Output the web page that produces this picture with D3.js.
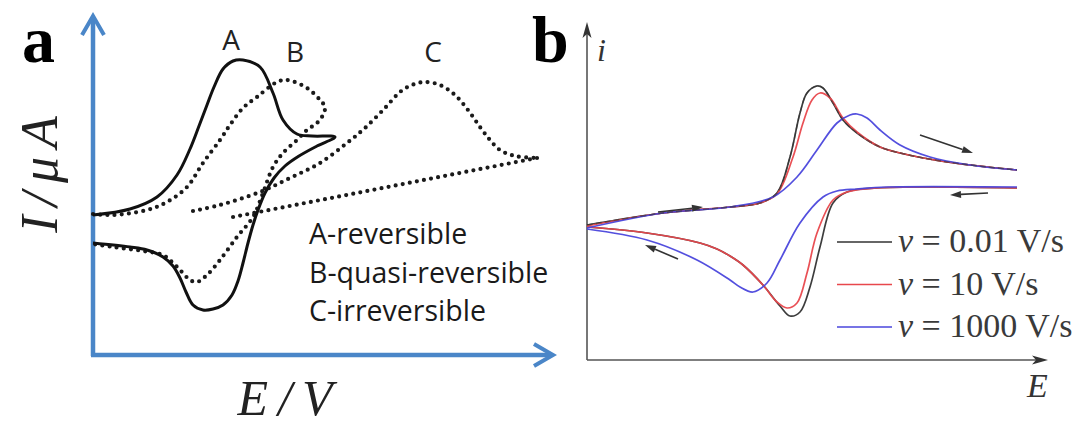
<!DOCTYPE html>
<html>
<head>
<meta charset="utf-8">
<script src="https://cdn.jsdelivr.net/npm/d3@7"></script>
<style>
  html, body { margin: 0; padding: 0; background: #fff; }
  svg { display: block; }
</style>
</head>
<body>
<script>
// ---- Panel a: idealised cyclic voltammograms, arbitrary units [E, I] ----
const curveA = [[0,140],[37,146],[64,158],[84,180],[97,206],[106,229],[114,250],[121,268],[130,286],[140,294],[150,295],[167,288],[180,262],[190,235],[204,221],[219,219],[242,218],
  [224,209],[206,199],[192,189],[181,177],[172,162],[165,145],[160,130],[155,112],[150,92],[145,74],[139,60],[130,50],[120,46],[110,45],[100,50],[93,63],[87,77],[80,89],[70,98],[54,105],[37,108],[0,112]];
const curveB = [[0,141],[20,140],[54,145],[74,153],[94,168],[110,192],[127,215],[137,230],[150,247],[164,258],[184,273],[194,275],[214,267],[227,255],[232,248],[230,240],[224,232],[214,225],[204,215],[190,202],[180,188],[170,162],[160,138],[144,118],[127,95],[114,80],[104,73],[97,75],[88,84],[80,92],[70,100],[50,104],[20,108],[0,111]];
const curveCforward = [[100,144],[127,150],[167,163],[197,177],[227,192],[254,212],[272,227],[292,247],[307,263],[319,270],[332,273],[347,270],[362,260],[375,245],[387,228],[397,215],[407,205],[422,199],[444,197]];
const curveCreverse = [[444,197],[140,138]];
const curveNames = ["A", "B", "C"];
const legendA = ["A-reversible", "B-quasi-reversible", "C-irreversible"];

// ---- Panel b: simulated CVs at three scan rates [E, i] ----
const scanRates = ["0.01", "10", "1000"];
const rateColors = ["#333333", "#e8474c", "#4a46dc"];
const forward001 = [[0,135],[76,147],[143,153],[173,157],[190,167],[203,203],[213,247],[220,267],[230,274],[236,272],[246,257],[256,240],[270,227],[293,213],[313,207],[360,198],[430,190]];
const reverse001 = [[430,172],[290,172],[260,168],[246,157],[233,113],[223,73],[213,48],[203,44],[193,54],[176,75],[156,95],[143,104],[130,111],[113,117],[60,127],[0,133]];
const forward10 = [[0,134],[76,147],[143,153],[173,157],[190,166],[206,203],[216,237],[225,260],[233,267],[243,262],[256,242],[270,228],[293,213],[313,207],[360,198],[430,190]];
const reverse10 = [[430,172],[290,172],[260,168],[246,160],[230,127],[220,87],[210,57],[200,52],[190,58],[176,75],[156,95],[143,104],[130,111],[113,117],[60,127],[0,133]];
const forward1000 = [[0,132],[76,147],[143,153],[186,163],[210,183],[230,210],[250,237],[263,245],[270,246],[280,242],[293,230],[313,215],[343,203],[383,195],[430,190]];
const reverse1000 = [[430,173],[300,173],[270,171],[250,169],[236,163],[213,137],[193,100],[180,77],[166,68],[153,73],[143,80],[110,100],[60,120],[0,131]];
// scan-direction arrows [from, to]
const scanArrows = [[[333,225],[386,207]], [[401,167],[363,165]], [[71,148],[116,153]], [[91,101],[58,115]]];

const W = 1088, H = 429;
const svg = d3.select("body").append("svg").attr("width", W).attr("height", H);

// ================= Panel a =================
const ax = d3.scaleLinear().domain([0, 460]).range([93, 553]);
const ay = d3.scaleLinear().domain([0, 340]).range([355, 15]);
const aBlue = "#4a86c8";
const lineA = d3.line().x(d => ax(d[0])).y(d => ay(d[1])).curve(d3.curveCatmullRom.alpha(0.5));

const ga = svg.append("g");
// axes with open arrowheads
ga.append("path").attr("d", `M${ax(0)},${ay(0) + 1}V${ay(338)}`).attr("stroke", aBlue).attr("stroke-width", 4.5).attr("fill", "none");
ga.append("path").attr("d", `M${ax(0) - 11},${ay(320)}L${ax(0)},${ay(339)}L${ax(0) + 11},${ay(320)}`).attr("stroke", aBlue).attr("stroke-width", 4).attr("fill", "none");
ga.append("path").attr("d", `M${ax(0) - 2},${ay(0)}H${ax(459)}`).attr("stroke", aBlue).attr("stroke-width", 4.5).attr("fill", "none");
ga.append("path").attr("d", `M${ax(441)},${ay(11)}L${ax(460)},${ay(0)}L${ax(441)},${ay(-11)}`).attr("stroke", aBlue).attr("stroke-width", 4).attr("fill", "none");

const dotted = sel => sel.attr("fill", "none").attr("stroke", "#1a1a1a").attr("stroke-width", 4.2)
  .attr("stroke-linecap", "round").attr("stroke-dasharray", "0 7.2");
ga.append("path").datum(curveB).attr("d", lineA).call(dotted);
ga.append("path").datum(curveCforward).attr("d", lineA).call(dotted);
ga.append("path").datum(curveCreverse).attr("d", d3.line().x(d => ax(d[0])).y(d => ay(d[1]))).call(dotted);
ga.append("path").datum(curveA).attr("d", lineA).attr("fill", "none").attr("stroke", "#111")
  .attr("stroke-width", 3).attr("stroke-linejoin", "round");

// curve names above the anodic peaks
const namePos = [[138, 305], [202, 293], [340, 293]];
ga.selectAll("text.name").data(curveNames).join("text")
  .attr("x", (d, i) => ax(namePos[i][0])).attr("y", (d, i) => ay(namePos[i][1]))
  .attr("text-anchor", "middle").attr("font-family", "Open Sans, Noto Sans, sans-serif")
  .attr("font-size", 28).attr("fill", "#222").text(d => d);

ga.selectAll("text.leg").data(legendA).join("text")
  .attr("x", 309).attr("y", (d, i) => 244 + i * 38.5)
  .attr("font-family", "Open Sans, Noto Sans, sans-serif").attr("font-size", 28.5).attr("fill", "#1a1a1a")
  .text(d => d);

// axis titles
ga.append("text").attr("transform", "translate(57,170) rotate(-90)").attr("text-anchor", "middle")
  .attr("font-family", "Liberation Serif, serif").attr("font-style", "italic").attr("font-size", 52)
  .attr("letter-spacing", 9).attr("fill", "#222").text("I/μA");
ga.append("text").attr("x", 290).attr("y", 415).attr("text-anchor", "middle")
  .attr("font-family", "Liberation Serif, serif").attr("font-style", "italic").attr("font-size", 50)
  .attr("letter-spacing", 10).attr("fill", "#222").text("E/V");

svg.append("text").attr("x", 22).attr("y", 62).attr("font-family", "Liberation Serif, serif")
  .attr("font-weight", "bold").attr("font-size", 66).attr("fill", "#000").text("a");

// ================= Panel b =================
const bx = d3.scaleLinear().domain([0, 461]).range([587, 1048]);
const by = d3.scaleLinear().domain([0, 338]).range([360, 22]);
const lineB = d3.line().x(d => bx(d[0])).y(d => by(d[1])).curve(d3.curveCatmullRom.alpha(0.5));
const gb = svg.append("g");
const axisGray = "#555";

gb.append("path").attr("d", `M${bx(0)},${by(0)}V${by(330)}`).attr("stroke", axisGray).attr("stroke-width", 1.6);
gb.append("path").attr("d", `M${bx(0)},${by(0)}H${bx(452)}`).attr("stroke", axisGray).attr("stroke-width", 1.6);
gb.append("path").attr("d", `M${bx(0)},${by(338)}L${bx(0) - 4.5},${by(322)}L${bx(0)},${by(326)}L${bx(0) + 4.5},${by(322)}Z`).attr("fill", "#333");
gb.append("path").attr("d", `M${bx(461)},${by(0)}L${bx(445)},${by(0) - 4.5}L${bx(449)},${by(0)}L${bx(445)},${by(0) + 4.5}Z`).attr("fill", "#333");

const seriesB = [[forward001, reverse001], [forward10, reverse10], [forward1000, reverse1000]];
seriesB.forEach((pair, i) => {
  pair.forEach(arr => {
    gb.append("path").datum(arr).attr("d", lineB).attr("fill", "none")
      .attr("stroke", rateColors[i]).attr("stroke-width", 1.7).attr("opacity", 0.95);
  });
});
// slow scan overlaid as a dashed trace where the curves coincide
gb.append("path").datum(forward001).attr("d", lineB).attr("fill", "none").attr("stroke", rateColors[0]).attr("stroke-width", 1.4).attr("stroke-dasharray", "6 3").attr("opacity", 0.6);

// scan direction arrows
scanArrows.forEach(([p, q]) => {
  const x1 = bx(p[0]), y1 = by(p[1]), x2 = bx(q[0]), y2 = by(q[1]);
  const ang = Math.atan2(y2 - y1, x2 - x1), L = 11, Wd = 3.5;
  const bxp = x2 - L * Math.cos(ang), byp = y2 - L * Math.sin(ang);
  gb.append("line").attr("x1", x1).attr("y1", y1).attr("x2", bxp).attr("y2", byp)
    .attr("stroke", "#333").attr("stroke-width", 1.6);
  gb.append("path").attr("d", `M${x2},${y2}L${bxp - Wd * Math.sin(ang)},${byp + Wd * Math.cos(ang)}L${bxp + Wd * Math.sin(ang)},${byp - Wd * Math.cos(ang)}Z`)
    .attr("fill", "#333");
});

// legend
scanRates.forEach((r, i) => {
  const y = 242 + i * 42.5;
  gb.append("line").attr("x1", 837).attr("x2", 892).attr("y1", y).attr("y2", y)
    .attr("stroke", rateColors[i]).attr("stroke-width", 1.7);
  const t = gb.append("text").attr("x", 898).attr("y", y + 10)
    .attr("font-family", "Liberation Serif, serif").attr("font-size", 34).attr("fill", "#3a3a3a");
  t.append("tspan").attr("font-style", "italic").text("v");
  t.append("tspan").text(` = ${r} V/s`);
});

gb.append("text").attr("x", 597).attr("y", 61).attr("font-family", "Liberation Serif, serif")
  .attr("font-style", "italic").attr("font-size", 32).attr("fill", "#333").text("i");
gb.append("text").attr("x", 1027).attr("y", 397).attr("font-family", "Liberation Serif, serif")
  .attr("font-style", "italic").attr("font-size", 34).attr("fill", "#333").text("E");

svg.append("text").attr("x", 532).attr("y", 62).attr("font-family", "Liberation Serif, serif")
  .attr("font-weight", "bold").attr("font-size", 66).attr("fill", "#000").text("b");
</script>
</body>
</html>
